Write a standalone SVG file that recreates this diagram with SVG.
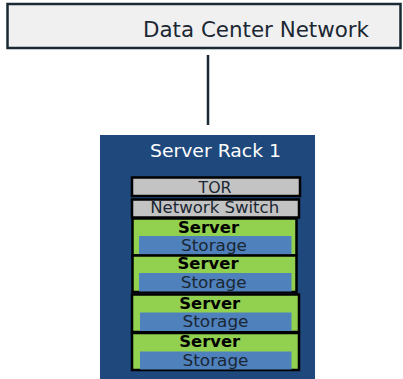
<svg xmlns="http://www.w3.org/2000/svg" width="403" height="379" viewBox="0 0 403 379">
<style>
text{font-family:"DejaVu Sans","Liberation Sans",sans-serif;text-anchor:middle}
.sw{fill:#c3c3c3;stroke:#000;stroke-width:2.5}
.srv{fill:#92d050;stroke:#000;stroke-width:2.5}
.sto{fill:#4f81bd}
.lbl{fill:#1b2733;font-size:15px}
.bold{fill:#000;font-size:15px;font-weight:bold}
</style>
<rect width="403" height="379" fill="#fff"/>
<g id="dcn">
<rect x="7.5" y="4" width="393" height="44" fill="#f0f0f0" stroke="#1a2a33" stroke-width="2.5"/>
<text x="256" y="36.5" font-size="21" fill="#1b2733" textLength="226" lengthAdjust="spacingAndGlyphs">Data Center Network</text>
</g>
<g id="connectors">
<line x1="208" y1="55" x2="208" y2="125" stroke="#1a2a33" stroke-width="2.5"/>
</g>
<g id="rack">
<rect x="100" y="135" width="215" height="250" fill="#1f497d"/>
<text x="215.5" y="157" font-size="18.5" fill="#fff" textLength="131" lengthAdjust="spacingAndGlyphs">Server Rack 1</text>
</g>
<g id="tor">
<rect class="sw" x="132" y="177.5" width="168" height="18.5"/>
<text class="lbl" x="215" y="192.7" textLength="33" lengthAdjust="spacingAndGlyphs">TOR</text>
</g>
<g id="switch">
<rect class="sw" x="132" y="199.5" width="167" height="18"/>
<text class="lbl" x="214.7" y="213.3" textLength="129" lengthAdjust="spacingAndGlyphs">Network Switch</text>
</g>
<g id="server1">
<rect class="srv" x="132.5" y="218.5" width="164" height="37"/>
<rect class="sto" x="139" y="236" width="152.5" height="18.5"/>
<text class="bold" x="208.5" y="233.3" textLength="61" lengthAdjust="spacingAndGlyphs">Server</text>
<text class="lbl" x="214" y="251.3" textLength="66" lengthAdjust="spacingAndGlyphs">Storage</text>
</g>
<g id="server2">
<rect class="srv" x="132.5" y="255.5" width="164" height="36.5"/>
<rect class="sto" x="139" y="273" width="152.5" height="18.5"/>
<text class="bold" x="208" y="269.3" textLength="61" lengthAdjust="spacingAndGlyphs">Server</text>
<text class="lbl" x="213.7" y="288.3" textLength="66" lengthAdjust="spacingAndGlyphs">Storage</text>
</g>
<g id="server3">
<rect class="srv" x="132" y="294.5" width="167" height="37.5"/>
<rect class="sto" x="140" y="312.5" width="151.5" height="18.5"/>
<text class="bold" x="209.7" y="309" textLength="61" lengthAdjust="spacingAndGlyphs">Server</text>
<text class="lbl" x="215.5" y="327.3" textLength="66" lengthAdjust="spacingAndGlyphs">Storage</text>
</g>
<g id="server4">
<rect class="srv" x="132" y="333" width="167" height="37"/>
<rect class="sto" x="140" y="351.5" width="151.5" height="18"/>
<text class="bold" x="209.7" y="347.3" textLength="61" lengthAdjust="spacingAndGlyphs">Server</text>
<text class="lbl" x="215.5" y="366" textLength="66" lengthAdjust="spacingAndGlyphs">Storage</text>
</g>
</svg>
